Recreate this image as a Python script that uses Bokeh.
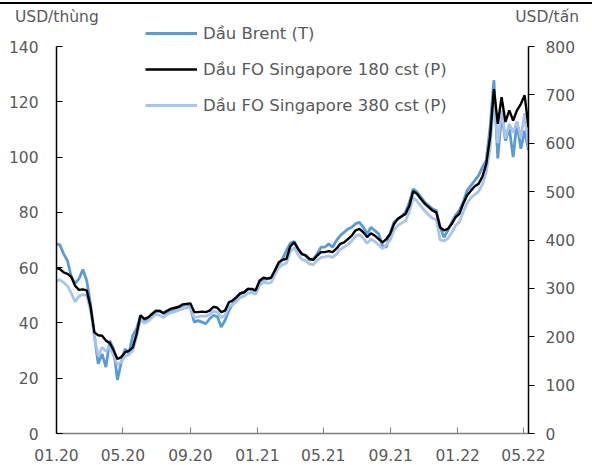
import pandas as pd
from bokeh.plotting import figure
from bokeh.models import (Range1d, LinearAxis, FixedTicker, DatetimeTickFormatter,
                          Legend, LegendItem, Div)
from bokeh.layouts import column
from bokeh.embed import file_html
from bokeh.resources import INLINE

# weekly (Tuesday) observations
dates = pd.date_range("2019-12-31", "2022-05-10", freq="W-TUE")

# Dầu Brent, USD/thùng (left axis)
brent = [
    68.5, 68.3, 65.0, 62.5, 56.6, 54.3, 56.0, 59.3, 55.4, 46.9,
    35.5, 25.2, 28.8, 24.0, 33.6, 30.6, 19.4, 25.8, 30.6, 28.8,
    35.5, 37.9, 42.7, 40.9, 41.5, 42.7, 43.9, 44.5, 43.3, 43.9,
    44.5, 45.1, 45.7, 46.3, 46.7, 45.7, 40.3, 40.9, 40.3, 39.7,
    41.5, 42.7, 42.3, 38.5, 40.9, 44.5, 46.9, 49.3, 50.5, 51.1,
    52.3, 51.9, 51.7,
    54.7, 55.9, 55.9, 56.3, 59.0, 61.4, 63.2, 66.2, 68.8, 69.5,
    66.8, 65.0, 64.4, 62.7, 63.2, 65.0, 67.4, 67.4, 68.6, 67.4,
    69.8, 71.6, 72.8, 74.0, 74.6, 75.9, 76.4, 74.6, 72.2, 74.6,
    73.4, 72.2, 68.0, 67.4, 72.2, 76.5, 77.6, 78.5, 80.1, 83.7,
    88.5, 87.3, 85.5, 83.7, 82.5, 81.3, 80.7, 74.6, 71.0, 73.4,
    76.4, 78.9,
    80.7, 83.7, 87.9, 89.7, 91.5, 93.3, 96.3, 98.8, 110.8, 127.8,
    99.5, 115.5, 106.0, 110.5, 100.0, 112.5, 103.0, 109.5, 102.5,
]

# Dầu FO Singapore 180 cst, USD/tấn (right axis)
fo180 = [
    342, 340, 333, 330, 324, 305, 297, 298, 296, 262,
    209, 203, 202, 192, 187, 172, 154, 158, 168, 171,
    178, 206, 244, 237, 240, 247, 254, 253, 249, 254,
    258, 260, 262, 267, 268, 269, 251, 251, 252, 251,
    254, 262, 260, 251, 254, 271, 275, 282, 290, 292,
    299, 299, 296,
    316, 322, 320, 322, 337, 354, 359, 361, 387, 395,
    382, 371, 368, 361, 359, 368, 375, 375, 377, 375,
    382, 392, 395, 402, 409, 420, 423, 416, 406, 414,
    409, 402, 395, 402, 413, 433, 444, 449, 454, 471,
    501, 495, 485, 475, 468, 461, 457, 426, 420, 423,
    433, 447,
    454, 475, 492, 502, 511, 516, 531, 557, 612, 712,
    640, 695, 644, 668, 647, 668, 681, 699, 633,
]

# Dầu FO Singapore 380 cst, USD/tấn (right axis)
fo380 = [
    314, 318, 312, 305, 290, 272, 284, 287, 285, 255,
    200, 160, 178, 170, 180, 160, 142, 148, 160, 163,
    172, 200, 236, 228, 232, 240, 246, 244, 240, 246,
    250, 252, 255, 258, 260, 261, 240, 241, 243, 242,
    246, 253, 251, 240, 244, 262, 266, 273, 281, 284,
    290, 291, 288,
    306, 313, 311, 312, 328, 343, 349, 352, 375, 385,
    370, 360, 357, 350, 349, 358, 364, 365, 367, 364,
    371, 381, 385, 391, 398, 408, 411, 404, 393, 402,
    397, 390, 382, 390, 400, 420, 430, 435, 440, 458,
    488, 480, 470, 460, 452, 445, 442, 400, 398, 403,
    415, 430,
    437, 458, 476, 487, 494, 500, 515, 540, 590, 690,
    600, 668, 610, 640, 622, 645, 612, 662, 590,
]

x_ticks = ["2020-01-01", "2020-05-01", "2020-09-01", "2021-01-01",
           "2021-05-01", "2021-09-01", "2022-01-01", "2022-05-01"]
left_ticks = [0, 20, 40, 60, 80, 100, 120, 140]
right_ticks = [0, 100, 200, 300, 400, 500, 600, 700, 800]
names = ["Dầu Brent (T)", "Dầu FO Singapore 180 cst (P)", "Dầu FO Singapore 380 cst (P)"]
unit_left, unit_right = "USD/thùng", "USD/tấn"

FONT = "DejaVu Sans"
GRAY = "#595959"

# layout geometry (pixels)
W, H_DIV, H_FIG = 592, 23, 442
FRAME_H = 410          # frame from canvas top to x-axis baseline
AXIS_H = 387           # pixel height of 0..140 on the left axis
L_MAX, R_MAX = left_ticks[-1], right_ticks[-1]

header = Div(
    text=(f'<div style="position:relative;box-sizing:border-box;width:{W}px;height:{H_DIV - 2}px;'
          f'margin-top:2px;border-top:2px solid #000000;'
          f'font-family:\'{FONT}\';font-size:15.5px;color:{GRAY};line-height:18px">'
          f'<span style="position:absolute;left:15px;top:4px;white-space:nowrap">{unit_left}</span>'
          f'<span style="position:absolute;right:13px;top:4px;white-space:nowrap">{unit_right}</span>'
          '</div>'),
    width=W, height=H_DIV, margin=0, styles={"overflow": "visible"})

p = figure(width=W, height=H_FIG, x_axis_type="datetime",
           x_range=Range1d(pd.Timestamp("2020-01-01"), pd.Timestamp("2022-05-10")),
           y_range=Range1d(0, L_MAX * FRAME_H / AXIS_H),
           output_backend="svg", toolbar_location=None, margin=0,
           min_border_left=56, min_border_right=64, min_border_top=0, min_border_bottom=32)
p.extra_y_ranges = {"t": Range1d(0, R_MAX * FRAME_H / AXIS_H)}
p.xgrid.visible = False
p.ygrid.visible = False
p.outline_line_color = None
p.border_fill_color = None
p.background_fill_color = None

r_brent = p.line(dates, brent, line_color="#5b9bd5", line_width=2.8)
r_380 = p.line(dates, fo380, line_color="#a9c4eb", line_width=2.8, y_range_name="t")
r_180 = p.line(dates, fo180, line_color="#000000", line_width=2.4, y_range_name="t")

# axes
xa = p.xaxis[0]
xa.ticker = FixedTicker(ticks=[pd.Timestamp(t).value // 10**6 for t in x_ticks])
xa.formatter = DatetimeTickFormatter(days="%m.%y", months="%m.%y", years="%m.%y")
xa.major_tick_in = 6
xa.major_tick_out = 0
xa.minor_tick_line_color = None
xa.axis_line_color = "#7f7f7f"
xa.axis_line_width = 1.5
xa.major_tick_line_color = "#7f7f7f"
xa.major_label_standoff = 15

ya = p.yaxis[0]
ya.ticker = FixedTicker(ticks=left_ticks)
ya.bounds = (0, L_MAX)
ya.major_tick_in = 6
ya.major_tick_out = 0
ya.minor_tick_line_color = None
ya.axis_line_color = "black"
ya.axis_line_width = 1.5
ya.major_tick_line_color = "black"
ya.major_label_standoff = 18

ra = LinearAxis(y_range_name="t", ticker=FixedTicker(ticks=right_ticks), bounds=(0, R_MAX))
ra.major_tick_in = 0
ra.major_tick_out = 6
ra.minor_tick_line_color = None
ra.axis_line_color = "black"
ra.axis_line_width = 1.5
ra.major_tick_line_color = "black"
ra.major_label_standoff = 11
p.add_layout(ra, "right")

for ax in (xa, ya, ra):
    ax.major_label_text_font = FONT
    ax.major_label_text_font_size = "15.5px"
    ax.major_label_text_color = GRAY

legend = Legend(items=[LegendItem(label=names[0], renderers=[r_brent]),
                       LegendItem(label=names[1], renderers=[r_180]),
                       LegendItem(label=names[2], renderers=[r_380])],
                location=(89, 318), orientation="vertical",
                label_text_font=FONT, label_text_font_size="16.5px", label_text_color=GRAY,
                glyph_width=52, glyph_height=20, label_height=20, spacing=16,
                padding=0, margin=0, label_standoff=6,
                border_line_alpha=0, background_fill_alpha=0)
p.add_layout(legend)

layout = column(header, p, spacing=0)
open("out.html", "w").write(file_html(layout, INLINE))
